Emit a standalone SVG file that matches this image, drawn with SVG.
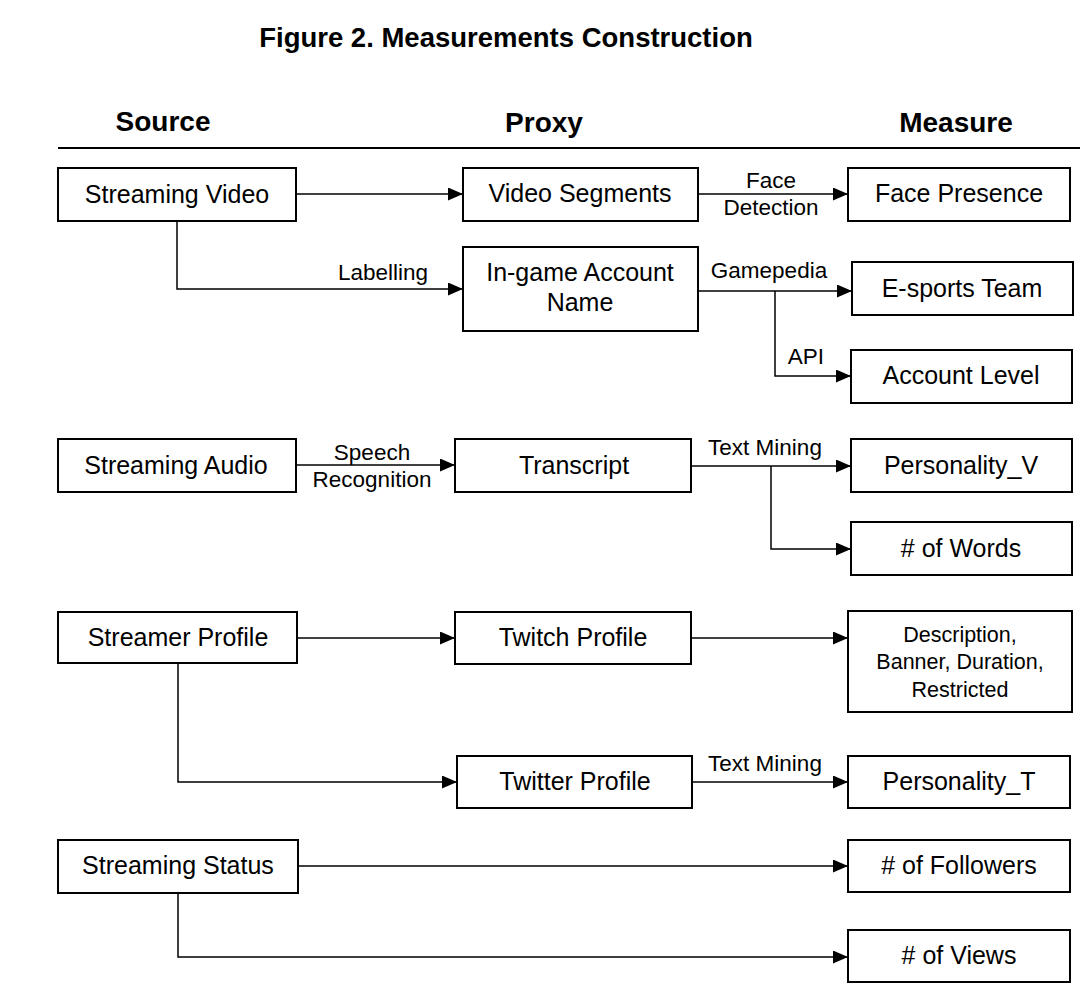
<svg xmlns="http://www.w3.org/2000/svg" width="1091" height="1000" viewBox="0 0 1091 1000">
<style>
text{font-family:"Liberation Sans",Arial,sans-serif;fill:#000}
.t{font-size:27.5px;font-weight:bold;text-anchor:middle}
.h{font-size:28px;font-weight:bold;text-anchor:middle}
.n rect{fill:#fff;stroke:#000;stroke-width:2}
.n text{font-size:25px;text-anchor:middle}
.n text.s{font-size:21.5px}
.e path{fill:none;stroke:#000;stroke-width:1.5}
.e text{font-size:22.5px;text-anchor:middle}
</style>
<defs>
<marker id="ah" viewBox="0 0 15 13" refX="15" refY="6.5" markerWidth="15" markerHeight="13" markerUnits="userSpaceOnUse" orient="auto">
<path d="M0,0 L15,6.5 L0,13 Z" fill="#000"/>
</marker>
</defs>
<rect width="1091" height="1000" fill="#fff"/>
<text class="t" x="506" y="47">Figure 2. Measurements Construction</text>
<text class="h" x="163" y="131">Source</text>
<text class="h" x="544" y="132">Proxy</text>
<text class="h" x="956" y="132">Measure</text>
<line x1="58" y1="148" x2="1080" y2="148" stroke="#000" stroke-width="2"/>

<g class="e" id="connectors">
<path d="M296,194 H463" marker-end="url(#ah)"/>
<path d="M177,221 V289 H463" marker-end="url(#ah)"/>
<text x="383" y="280">Labelling</text>
<path d="M698,194 H848" marker-end="url(#ah)"/>
<text x="771" y="188">Face</text>
<text x="771" y="215">Detection</text>
<path d="M698,291 H852" marker-end="url(#ah)"/>
<path d="M775,291 V376 H851" marker-end="url(#ah)"/>
<text x="769" y="278">Gamepedia</text>
<text x="806" y="364">API</text>
<path d="M296,465 H455" marker-end="url(#ah)"/>
<text x="372" y="460">Speech</text>
<text x="372" y="487">Recognition</text>
<path d="M691,466 H851" marker-end="url(#ah)"/>
<path d="M771,466 V549 H851" marker-end="url(#ah)"/>
<text x="765" y="455">Text Mining</text>
<path d="M297,638 H455" marker-end="url(#ah)"/>
<path d="M178,663 V782 H457" marker-end="url(#ah)"/>
<path d="M691,638 H848" marker-end="url(#ah)"/>
<path d="M692,782 H848" marker-end="url(#ah)"/>
<text x="765" y="771">Text Mining</text>
<path d="M298,866 H848" marker-end="url(#ah)"/>
<path d="M178,893 V957 H848" marker-end="url(#ah)"/>
</g>

<g class="n" id="streaming-video"><rect x="58" y="168" width="238" height="53"/><text x="177" y="203">Streaming Video</text></g>
<g class="n" id="video-segments"><rect x="463" y="168" width="235" height="53"/><text x="580" y="202">Video Segments</text></g>
<g class="n" id="face-presence"><rect x="848" y="168" width="222" height="53"/><text x="959" y="202">Face Presence</text></g>
<g class="n" id="ingame-account"><rect x="463" y="247" width="235" height="84"/><text x="580" y="281">In-game Account</text><text x="580" y="311">Name</text></g>
<g class="n" id="esports-team"><rect x="852" y="262" width="221" height="53"/><text x="962" y="297">E-sports Team</text></g>
<g class="n" id="account-level"><rect x="851" y="350" width="221" height="53"/><text x="961" y="384">Account Level</text></g>
<g class="n" id="streaming-audio"><rect x="58" y="439" width="238" height="53"/><text x="176" y="474">Streaming Audio</text></g>
<g class="n" id="transcript"><rect x="455" y="439" width="236" height="53"/><text x="574" y="474">Transcript</text></g>
<g class="n" id="personality-v"><rect x="851" y="439" width="221" height="53"/><text x="961" y="474">Personality_V</text></g>
<g class="n" id="num-words"><rect x="851" y="522" width="221" height="53"/><text x="961" y="557">
# of Words</text></g>
<g class="n" id="streamer-profile"><rect x="58" y="612" width="239" height="51"/><text x="178" y="646">Streamer Profile</text></g>
<g class="n" id="twitch-profile"><rect x="455" y="612" width="236" height="52"/><text x="573" y="646">Twitch Profile</text></g>
<g class="n" id="description"><rect x="848" y="611" width="224" height="101"/><text class="s" x="960" y="642">Description,</text><text class="s" x="960" y="669">Banner, Duration,</text><text class="s" x="960" y="697">Restricted</text></g>
<g class="n" id="twitter-profile"><rect x="457" y="756" width="235" height="52"/><text x="575" y="790">Twitter Profile</text></g>
<g class="n" id="personality-t"><rect x="848" y="756" width="222" height="52"/><text x="959" y="790">Personality_T</text></g>
<g class="n" id="streaming-status"><rect x="58" y="840" width="240" height="53"/><text x="178" y="874">Streaming Status</text></g>
<g class="n" id="num-followers"><rect x="848" y="840" width="222" height="52"/><text x="959" y="874">
# of Followers</text></g>
<g class="n" id="num-views"><rect x="848" y="930" width="222" height="52"/><text x="959" y="964">
# of Views</text></g>
</svg>
